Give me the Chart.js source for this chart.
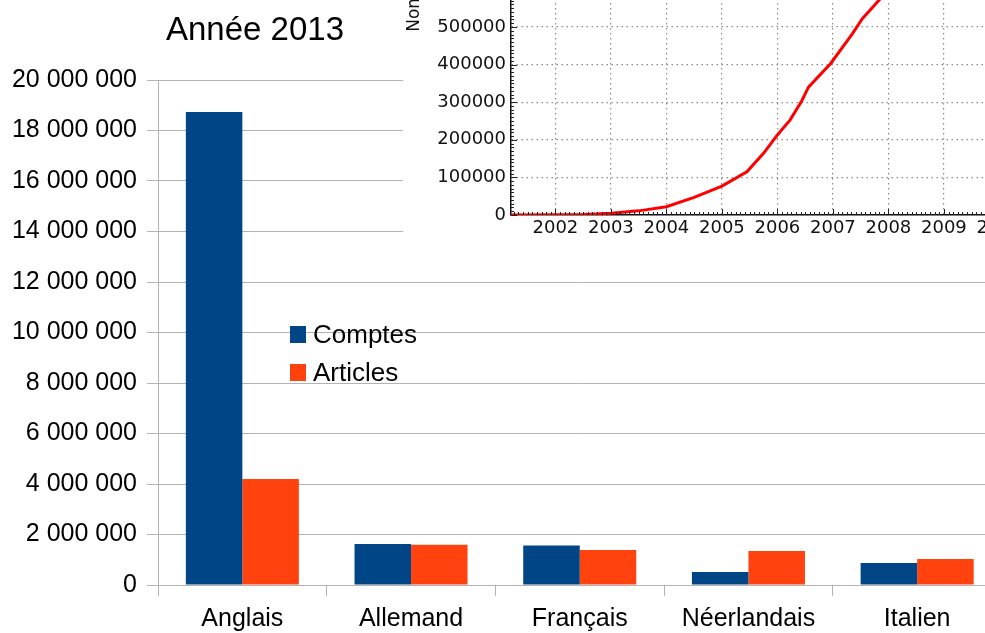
<!DOCTYPE html>
<html lang="fr">
<head>
<meta charset="utf-8">
<title>Année 2013</title>
<script src="https://cdn.jsdelivr.net/npm/chart.js@4"></script>
<style>
  html, body { margin: 0; padding: 0; background: #fff; width: 985px; height: 633px; overflow: hidden; }
  #main { position: absolute; left: 0; top: 0; width: 1010px; height: 633px; }
  #titre { position: absolute; left: 166px; top: 12px; font: 33px/33px "Liberation Sans", Arial, sans-serif; color: #000; white-space: nowrap; }
  #legende { position: absolute; left: 290px; top: 326px; font: 26px/26px "Liberation Sans", Arial, sans-serif; color: #000; }
  .item { position: absolute; left: 0; height: 17px; white-space: nowrap; }
  .item i { position: absolute; left: 0; top: 0; width: 16px; height: 17px; }
  .item span { position: absolute; left: 23px; top: -5px; }
  #inset { position: absolute; left: 403px; top: -302px; width: 663px; height: 545px; background: #fff; }
</style>
</head>
<body>
<div id="main"><canvas id="chart-main"></canvas></div>
<div id="titre">Année 2013</div>
<div id="legende"></div>
<div id="inset"><canvas id="chart-inset"></canvas></div>
<script>
(function () {
  "use strict";

  // graphique principal
  var LANGUES = ["Anglais", "Allemand", "Français", "Néerlandais", "Italien"];
  var SERIES = ["Comptes", "Articles"];
  var COMPTES = [18730000, 1620000, 1560000, 510000, 870000];
  var ARTICLES = [4200000, 1590000, 1390000, 1350000, 1030000];
  var Y_MAX = 20000000, Y_PAS = 2000000;

  // image incrustée (courbe)
  var ANNEES = [2002, 2003, 2004, 2005, 2006, 2007, 2008, 2009, 2010, 2011];
  var COURBE_X = [2001.2, 2002, 2002.5, 2002.63, 2003, 2003.5, 2004, 2004.5, 2005, 2005.45, 2005.75, 2006, 2006.23, 2006.44, 2006.56, 2006.96, 2007.35, 2007.53, 2007.83, 2008.1];
  var COURBE_Y = [0, 500, 1200, 2000, 4500, 11000, 22000, 47000, 77000, 115000, 164000, 213000, 253000, 304000, 340000, 403000, 482000, 522000, 571000, 612000];
  var INSET_Y_MAX = 1375000, INSET_Y_PAS = 100000;

  var BLEU = "#004586";
  var ORANGE = "#ff420e";
  var GRILLE = "#b3b3b3";
  var COULEURS = [BLEU, ORANGE];

  Chart.defaults.font.family = "'Liberation Sans', Arial, sans-serif";
  Chart.defaults.color = "#000";

  function espaces(v) { return String(v).replace(/\B(?=(\d{3})+(?!\d))/g, " "); }

  new Chart(document.getElementById("chart-main"), {
    type: "bar",
    data: {
      labels: LANGUES,
      datasets: [
        { label: SERIES[0], data: COMPTES, backgroundColor: BLEU, categoryPercentage: 0.67, barPercentage: 1 },
        { label: SERIES[1], data: ARTICLES, backgroundColor: ORANGE, categoryPercentage: 0.67, barPercentage: 1 },
      ],
    },
    options: {
      responsive: true, maintainAspectRatio: false, animation: false,
      layout: { padding: { top: 80, right: 8.5, left: 0, bottom: 0 } },
      plugins: { legend: { display: false }, tooltip: { enabled: false } },
      scales: {
        x: {
          grid: { offset: true, drawOnChartArea: false, tickLength: 11, color: GRILLE },
          border: { color: GRILLE },
          ticks: { font: { size: 25 }, padding: 8, maxRotation: 0 },
          afterFit: function (s) { s.height = 48; s.paddingLeft = 0; s.paddingRight = 0; },
        },
        y: {
          min: 0, max: Y_MAX,
          grid: { color: GRILLE, tickLength: 11 },
          border: { color: GRILLE },
          ticks: { stepSize: Y_PAS, padding: 10, font: { size: 25 }, callback: espaces },
          afterFit: function (s) { s.width = 158; s.paddingTop = 0; s.paddingBottom = 0; },
        },
      },
    },
  });

  document.getElementById("legende").innerHTML = SERIES.map(function (n, i) {
    return '<div class="item" style="top:' + (i * 37.5) + 'px"><i style="background:' + COULEURS[i] + '"></i><span>' + n + '</span></div>';
  }).join("");

  var graduations = {
    id: "graduations",
    afterDraw: function (c) {
      var ctx = c.ctx, xs = c.scales.x, ys = c.scales.y, a = c.chartArea;
      ctx.save();
      ctx.strokeStyle = "#222"; ctx.lineWidth = 1;
      ctx.beginPath();
      for (var m = Math.ceil(xs.min * 12); m <= xs.max * 12; m++) {
        var px = Math.round(xs.getPixelForValue(m / 12)) + 0.5;
        var l = m % 12 === 0 ? 6 : 3;
        ctx.moveTo(px, a.bottom); ctx.lineTo(px, a.bottom - l);
      }
      for (var v = 0; v <= ys.max; v += 10000) {
        var py = Math.round(ys.getPixelForValue(v)) + 0.5;
        var k = v % 100000 === 0 ? 6 : 3;
        ctx.moveTo(a.left, py); ctx.lineTo(a.left + k, py);
      }
      ctx.stroke();
      ctx.restore();
    },
  };

  new Chart(document.getElementById("chart-inset"), {
    type: "line",
    data: {
      datasets: [{
        data: COURBE_X.map(function (x, i) { return { x: x, y: COURBE_Y[i] }; }),
        borderColor: "#ff0000", borderWidth: 3, pointRadius: 0, tension: 0, fill: false,
      }],
    },
    options: {
      responsive: true, maintainAspectRatio: false, animation: false,
      layout: { padding: 0 },
      plugins: { legend: { display: false }, tooltip: { enabled: false } },
      scales: {
        x: {
          type: "linear", min: 2001.2, max: 2011.2,
          afterBuildTicks: function (s) { s.ticks = ANNEES.map(function (v) { return { value: v }; }); },
          grid: { color: "#8a8a8a", drawTicks: false, lineWidth: 1.2 },
          border: { color: "#111", width: 1.5, dash: [1.5, 3.5] },
          ticks: { color: "#111", font: { family: "'DejaVu Sans'", size: 18 }, padding: 3, autoSkip: false, maxRotation: 0, callback: function (v) { return String(v); } },
          afterFit: function (s) { s.height = 28; s.paddingLeft = 0; s.paddingRight = 0; },
        },
        y: {
          min: 0, max: INSET_Y_MAX,
          afterBuildTicks: function (s) {
            var t = [];
            for (var v = 0; v <= INSET_Y_MAX; v += INSET_Y_PAS) t.push({ value: v });
            s.ticks = t;
          },
          grid: { color: "#8a8a8a", drawTicks: false, lineWidth: 1.2 },
          border: { color: "#111", width: 1.5, dash: [1.5, 3.5] },
          ticks: { color: "#111", font: { family: "'DejaVu Sans'", size: 18 }, padding: 5, autoSkip: false, callback: function (v) { return String(Math.round(v)); } },
          title: { display: true, text: "Nombre d'articles", color: "#111", font: { family: "'DejaVu Sans'", size: 17 }, padding: { top: 1, bottom: 0 } },
          afterFit: function (s) { s.width = 108; s.paddingTop = 0; s.paddingBottom = 0; },
        },
      },
    },
    plugins: [graduations],
  });
})();
</script>
</body>
</html>
